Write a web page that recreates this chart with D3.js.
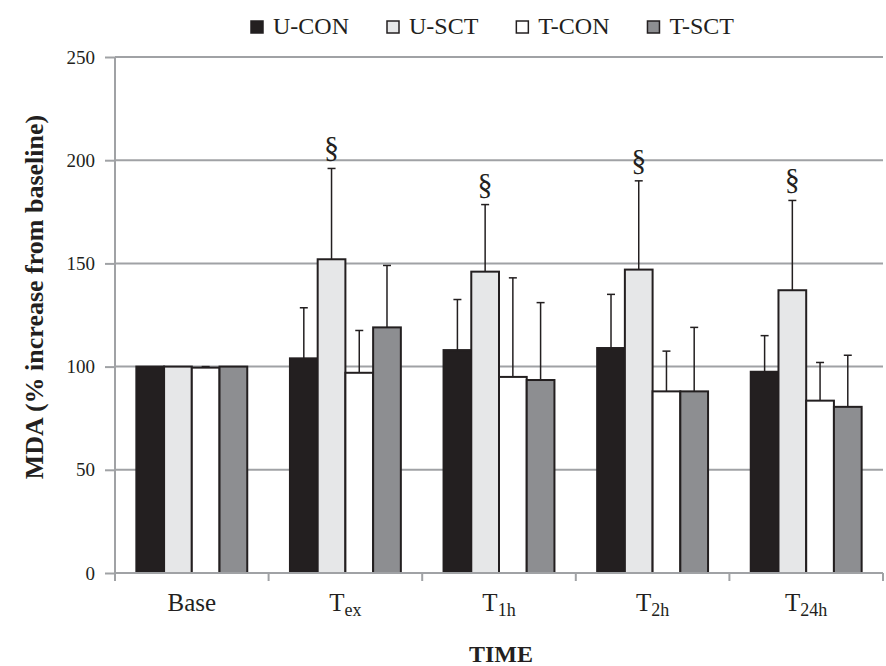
<!DOCTYPE html>
<html>
<head>
<meta charset="utf-8">
<script src="https://cdn.jsdelivr.net/npm/d3@7"></script>
<style>
  body { margin: 0; background: #fff; }
  svg text { font-family: "Liberation Serif", "Times New Roman", serif; fill: #231f20; }
</style>
</head>
<body>
<div id="chart"></div>
<script>
// data
var times = ["Base", "Tex", "T1h", "T2h", "T24h"];
var timeMain = ["Base", "T", "T", "T", "T"];
var timeSub = ["", "ex", "1h", "2h", "24h"];
var groups = ["U-CON", "U-SCT", "T-CON", "T-SCT"];
var colors = ["#231f20", "#e6e7e8", "#ffffff", "#8d8e91"];

var uCon = [100, 104, 108, 109, 97.5];
var uSct = [100, 152, 146, 147, 137];
var tCon = [99.5, 97, 95, 88, 83.5];
var tSct = [100, 119, 93.5, 88, 80.5];

var uConSd = [0, 24.5, 24.5, 26, 17.5];
var uSctSd = [0, 44, 32.5, 43, 43.5];
var tConSd = [0.5, 20.5, 48, 19.5, 18.5];
var tSctSd = [0, 30, 37.5, 31, 25];

var signif = [false, true, true, true, true]; // § over U-SCT
var yTicks = [0, 50, 100, 150, 200, 250];

var means = [uCon, uSct, tCon, tSct];
var sds = [uConSd, uSctSd, tConSd, tSctSd];

var W = 886, H = 666;
var mLeft = 115, mRight = 883, mTop = 57, mBottom = 573;
var gridCol = "#a0a2a5", ink = "#231f20";

var svg = d3.select("#chart").append("svg")
    .attr("width", W).attr("height", H)
    .attr("font-family", "Liberation Serif");

var y = d3.scaleLinear().domain([0, 250]).range([mBottom, mTop]);
var x0 = d3.scaleBand().domain(times).range([mLeft, mRight]);
var x1 = d3.scaleBand().domain(groups).range([0, x0.bandwidth()]).paddingOuter(0.77);

// gridlines
svg.append("g").selectAll("line").data(yTicks.slice(1)).enter().append("line")
    .attr("x1", mLeft).attr("x2", mRight)
    .attr("y1", function(d){ return y(d); }).attr("y2", function(d){ return y(d); })
    .attr("stroke", gridCol).attr("stroke-width", 2);

// y axis
var yAxis = svg.append("g").attr("transform", "translate(" + mLeft + ",0)")
    .call(d3.axisLeft(y).tickValues(yTicks).tickSize(10).tickPadding(10));
yAxis.select(".domain").remove();
yAxis.selectAll(".tick line").attr("stroke", gridCol).attr("stroke-width", 2);
yAxis.selectAll(".tick text").attr("font-family", "Liberation Serif").attr("font-size", 19).attr("fill", ink);
svg.append("line").attr("x1", mLeft).attr("x2", mLeft).attr("y1", mTop).attr("y2", mBottom + 8)
    .attr("stroke", gridCol).attr("stroke-width", 2);

// bars
var rows = times.map(function(t, i){
    return groups.map(function(g, j){
        return {time: t, group: g, j: j, mean: means[j][i], sd: sds[j][i]};
    });
});

var gGroups = svg.append("g").selectAll("g").data(rows).enter().append("g")
    .attr("transform", function(d, i){ return "translate(" + x0(times[i]) + ",0)"; });

gGroups.selectAll("rect").data(function(d){ return d; }).enter().append("rect")
    .attr("x", function(d){ return x1(d.group); })
    .attr("y", function(d){ return y(d.mean); })
    .attr("width", x1.bandwidth())
    .attr("height", function(d){ return mBottom - y(d.mean); })
    .attr("fill", function(d){ return colors[d.j]; })
    .attr("stroke", ink).attr("stroke-width", 2);

// error bars (upper only)
var errs = gGroups.selectAll("g.err").data(function(d){ return d.filter(function(e){ return e.sd > 0; }); })
    .enter().append("g").attr("class", "err");
errs.append("line")
    .attr("x1", function(d){ return x1(d.group) + x1.bandwidth() / 2; })
    .attr("x2", function(d){ return x1(d.group) + x1.bandwidth() / 2; })
    .attr("y1", function(d){ return y(d.mean); })
    .attr("y2", function(d){ return y(d.mean + d.sd); })
    .attr("stroke", ink).attr("stroke-width", 1.5);
errs.append("line")
    .attr("x1", function(d){ return x1(d.group) + x1.bandwidth() / 2 - 4; })
    .attr("x2", function(d){ return x1(d.group) + x1.bandwidth() / 2 + 4; })
    .attr("y1", function(d){ return y(d.mean + d.sd); })
    .attr("y2", function(d){ return y(d.mean + d.sd); })
    .attr("stroke", ink).attr("stroke-width", 1.5);

// significance marks
gGroups.filter(function(d, i){ return signif[i]; }).append("text")
    .attr("x", function(d){ return x1("U-SCT") + x1.bandwidth() / 2; })
    .attr("y", function(d){ return y(d[1].mean + d[1].sd) - 11; })
    .attr("text-anchor", "middle").attr("font-size", 30)
    .text("§");

// x axis
svg.append("line").attr("x1", mLeft).attr("x2", mRight).attr("y1", mBottom).attr("y2", mBottom)
    .attr("stroke", gridCol).attr("stroke-width", 2);
svg.append("g").selectAll("line").data(times.concat(["end"])).enter().append("line")
    .attr("x1", function(d, i){ return mLeft + i * x0.step(); })
    .attr("x2", function(d, i){ return mLeft + i * x0.step(); })
    .attr("y1", mBottom).attr("y2", mBottom + 8)
    .attr("stroke", gridCol).attr("stroke-width", 2);

var xl = svg.append("g").selectAll("text").data(times).enter().append("text")
    .attr("x", function(d){ return x0(d) + x0.bandwidth() / 2; })
    .attr("y", 611)
    .attr("text-anchor", "middle").attr("font-size", 25);
xl.append("tspan").text(function(d, i){ return timeMain[i]; });
xl.append("tspan").attr("font-size", 18).attr("dy", 5).text(function(d, i){ return timeSub[i]; });

// axis titles
svg.append("text").attr("x", 501).attr("y", 662).attr("text-anchor", "middle")
    .attr("font-size", 24).attr("font-weight", "bold").text("TIME");
svg.append("text").attr("transform", "translate(43,297) rotate(-90)").attr("text-anchor", "middle")
    .attr("font-size", 26).attr("font-weight", "bold").text("MDA (% increase from baseline)");

// legend
var legend = svg.append("g");
var lx = 250;
groups.forEach(function(g, j){
    legend.append("rect").attr("x", lx + 1).attr("y", 21).attr("width", 12).attr("height", 12)
        .attr("fill", colors[j]).attr("stroke", ink).attr("stroke-width", 1.5);
    var t = legend.append("text").attr("x", lx + 23).attr("y", 33.5).attr("font-size", 24).text(g);
    lx += 23 + t.node().getComputedTextLength() + 37;
});
</script>
</body>
</html>
